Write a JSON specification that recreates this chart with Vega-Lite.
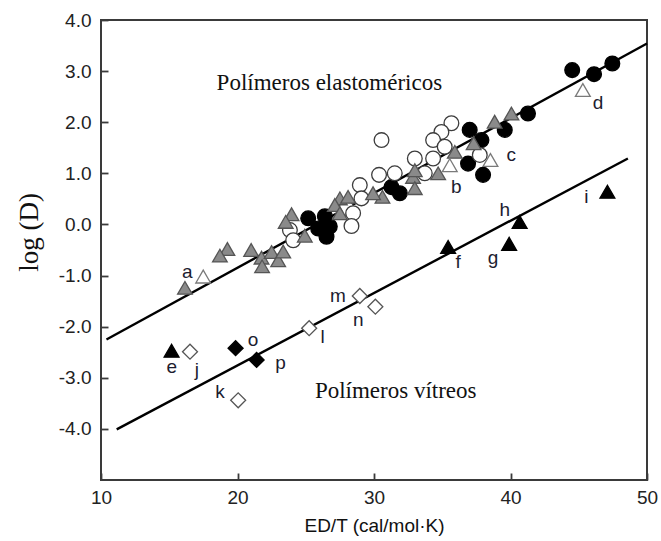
{
  "$schema": "https://vega.github.io/schema/vega-lite/v6.json",
  "autosize": {"type": "none"},
  "padding": {"left": 101, "top": 20, "right": 14, "bottom": 61},
  "width": 546,
  "height": 460,
  "background": "white",
  "config": {
    "view": {"stroke": "#3a3a3a", "strokeWidth": 2},
    "axis": {
      "domain": false,
      "grid": false,
      "tickColor": "#3a3a3a",
      "tickWidth": 1.8,
      "tickSize": -7,
      "labelFont": "Liberation Sans",
      "labelFontSize": 19,
      "labelColor": "#222",
      "titleColor": "#111",
      "labelFlush": false
    }
  },
  "datasets": {
    "points": [
      {"x": 44.52, "y": 3.02, "kind": "black circle"},
      {"x": 46.12, "y": 2.94, "kind": "black circle"},
      {"x": 47.46, "y": 3.15, "kind": "black circle"},
      {"x": 41.28, "y": 2.17, "kind": "black circle"},
      {"x": 39.58, "y": 1.85, "kind": "black circle"},
      {"x": 37.01, "y": 1.85, "kind": "black circle"},
      {"x": 37.87, "y": 1.65, "kind": "black circle"},
      {"x": 36.89, "y": 1.19, "kind": "black circle"},
      {"x": 37.99, "y": 0.97, "kind": "black circle"},
      {"x": 31.28, "y": 0.73, "kind": "black circle"},
      {"x": 31.89, "y": 0.61, "kind": "black circle"},
      {"x": 25.18, "y": 0.12, "kind": "black circle"},
      {"x": 26.4, "y": 0.16, "kind": "black circle"},
      {"x": 25.91, "y": -0.08, "kind": "black circle"},
      {"x": 26.76, "y": -0.04, "kind": "black circle"},
      {"x": 26.52, "y": -0.24, "kind": "black circle"},

      {"x": 30.55, "y": 1.65, "kind": "open circle"},
      {"x": 35.67, "y": 1.98, "kind": "open circle"},
      {"x": 34.94, "y": 1.81, "kind": "open circle"},
      {"x": 34.33, "y": 1.65, "kind": "open circle"},
      {"x": 35.18, "y": 1.52, "kind": "open circle"},
      {"x": 34.33, "y": 1.29, "kind": "open circle"},
      {"x": 32.99, "y": 1.29, "kind": "open circle"},
      {"x": 33.72, "y": 1.0, "kind": "open circle"},
      {"x": 37.75, "y": 1.36, "kind": "open circle"},
      {"x": 31.52, "y": 1.0, "kind": "open circle"},
      {"x": 30.37, "y": 0.97, "kind": "open circle"},
      {"x": 28.96, "y": 0.77, "kind": "open circle"},
      {"x": 29.08, "y": 0.51, "kind": "open circle"},
      {"x": 27.98, "y": 0.32, "kind": "open circle"},
      {"x": 28.47, "y": 0.22, "kind": "open circle"},
      {"x": 28.35, "y": -0.03, "kind": "open circle"},
      {"x": 23.84, "y": -0.11, "kind": "open circle"},
      {"x": 24.08, "y": -0.31, "kind": "open circle"},

      {"x": 40.07, "y": 2.17, "kind": "gray triangle"},
      {"x": 38.84, "y": 2.01, "kind": "gray triangle"},
      {"x": 37.3, "y": 1.59, "kind": "gray triangle"},
      {"x": 35.92, "y": 1.42, "kind": "gray triangle"},
      {"x": 34.7, "y": 1.0, "kind": "gray triangle"},
      {"x": 32.86, "y": 0.93, "kind": "gray triangle"},
      {"x": 32.99, "y": 0.71, "kind": "gray triangle"},
      {"x": 32.99, "y": 1.06, "kind": "gray triangle"},
      {"x": 30.62, "y": 0.54, "kind": "gray triangle"},
      {"x": 29.93, "y": 0.61, "kind": "gray triangle"},
      {"x": 27.5, "y": 0.51, "kind": "gray triangle"},
      {"x": 28.1, "y": 0.54, "kind": "gray triangle"},
      {"x": 27.13, "y": 0.38, "kind": "gray triangle"},
      {"x": 27.5, "y": 0.22, "kind": "gray triangle"},
      {"x": 23.96, "y": 0.2, "kind": "gray triangle"},
      {"x": 23.53, "y": 0.05, "kind": "gray triangle"},
      {"x": 24.93, "y": -0.22, "kind": "gray triangle"},
      {"x": 19.26, "y": -0.48, "kind": "gray triangle"},
      {"x": 18.71, "y": -0.61, "kind": "gray triangle"},
      {"x": 21.0, "y": -0.5, "kind": "gray triangle"},
      {"x": 21.76, "y": -0.65, "kind": "gray triangle"},
      {"x": 21.8, "y": -0.82, "kind": "gray triangle"},
      {"x": 22.5, "y": -0.54, "kind": "gray triangle"},
      {"x": 22.98, "y": -0.7, "kind": "gray triangle"},
      {"x": 23.35, "y": -0.53, "kind": "gray triangle"},
      {"x": 16.15, "y": -1.24, "kind": "gray triangle"},

      {"x": 17.49, "y": -1.02, "kind": "open triangle"},
      {"x": 45.3, "y": 2.63, "kind": "open triangle"},
      {"x": 38.53, "y": 1.26, "kind": "open triangle"},
      {"x": 35.55, "y": 1.16, "kind": "open triangle"},

      {"x": 15.17, "y": -2.47, "kind": "black triangle"},
      {"x": 35.43, "y": -0.44, "kind": "black triangle"},
      {"x": 39.9, "y": -0.38, "kind": "black triangle"},
      {"x": 40.67, "y": 0.05, "kind": "black triangle"},
      {"x": 47.1, "y": 0.64, "kind": "black triangle"},

      {"x": 16.52, "y": -2.49, "kind": "open diamond"},
      {"x": 20.05, "y": -3.44, "kind": "open diamond"},
      {"x": 25.25, "y": -2.03, "kind": "open diamond"},
      {"x": 28.96, "y": -1.4, "kind": "open diamond"},
      {"x": 30.1, "y": -1.61, "kind": "open diamond"},

      {"x": 19.86, "y": -2.42, "kind": "black diamond"},
      {"x": 21.4, "y": -2.65, "kind": "black diamond"}
    ],
    "fits": [
      {"x": 10.4, "y": -2.25, "x2": 50, "y2": 3.54},
      {"x": 11.15, "y": -4.01, "x2": 48.6, "y2": 1.29}
    ],
    "letters": [
      {"x": 16.32, "y": -0.93, "t": "a"},
      {"x": 36.03, "y": 0.74, "t": "b"},
      {"x": 40.06, "y": 1.36, "t": "c"},
      {"x": 46.41, "y": 2.37, "t": "d"},
      {"x": 15.18, "y": -2.79, "t": "e"},
      {"x": 36.16, "y": -0.73, "t": "f"},
      {"x": 38.72, "y": -0.66, "t": "g"},
      {"x": 39.58, "y": 0.28, "t": "h"},
      {"x": 45.56, "y": 0.54, "t": "i"},
      {"x": 17.03, "y": -2.85, "t": "j"},
      {"x": 18.71, "y": -3.27, "t": "k"},
      {"x": 26.23, "y": -2.2, "t": "l"},
      {"x": 27.35, "y": -1.4, "t": "m"},
      {"x": 28.84, "y": -1.87, "t": "n"},
      {"x": 21.13, "y": -2.26, "t": "o"},
      {"x": 23.16, "y": -2.71, "t": "p"}
    ],
    "captions": [
      {"x": 18.47, "y": 2.64, "t": "Polímeros elastoméricos"},
      {"x": 25.67, "y": -3.4, "t": "Polímeros vítreos"}
    ]
  },
  "layer": [
    {
      "data": {"name": "fits"},
      "mark": {"type": "rule", "color": "#000", "strokeWidth": 2.4},
      "encoding": {
        "x": {
          "field": "x", "type": "quantitative",
          "scale": {"domain": [10, 50], "nice": false, "zero": false},
          "axis": {
            "values": [10, 20, 30, 40, 50],
            "labelPadding": 15,
            "title": "ED/T (cal/mol·K)",
            "titleFont": "Liberation Sans",
            "titleFontSize": 19,
            "titleFontWeight": "normal",
            "titlePadding": 9
          }
        },
        "y": {
          "field": "y", "type": "quantitative",
          "scale": {"domain": [-5, 4], "nice": false, "zero": false},
          "axis": {
            "values": [-4, -3, -2, -1, 0, 1, 2, 3, 4],
            "labelExpr": "replace(format(datum.value, '.1f'), '\u2212', '-')",
            "labelPadding": 17,
            "title": "log (D)",
            "titleFont": "Liberation Serif",
            "titleFontSize": 27,
            "titleFontWeight": "normal",
            "titleX": -72,
            "titleY": 212,
            "titleAlign": "center",
            "titleBaseline": "middle",
            "titleAngle": -90
          }
        },
        "x2": {"field": "x2"},
        "y2": {"field": "y2"}
      }
    },
    {
      "data": {"name": "points"},
      "mark": {"type": "point", "filled": true, "strokeWidth": 1.3, "opacity": 1},
      "encoding": {
        "x": {"field": "x", "type": "quantitative"},
        "y": {"field": "y", "type": "quantitative"},
        "shape": {
          "field": "kind", "type": "nominal", "legend": null,
          "scale": {
            "domain": ["gray triangle", "open circle", "black circle", "open triangle", "black triangle", "open diamond", "black diamond"],
            "range": ["triangle-up", "circle", "circle", "triangle-up", "triangle-up", "diamond", "diamond"]
          }
        },
        "fill": {
          "field": "kind", "type": "nominal", "legend": null,
          "scale": {
            "domain": ["gray triangle", "open circle", "black circle", "open triangle", "black triangle", "open diamond", "black diamond"],
            "range": ["#8a8a8a", "#ffffff", "#000000", "#ffffff", "#000000", "#ffffff", "#000000"]
          }
        },
        "stroke": {
          "field": "kind", "type": "nominal", "legend": null,
          "scale": {
            "domain": ["gray triangle", "open circle", "black circle", "open triangle", "black triangle", "open diamond", "black diamond"],
            "range": ["#555555", "#3c3c3c", "#000000", "#7a7a7a", "#000000", "#555555", "#000000"]
          }
        },
        "size": {
          "field": "kind", "type": "nominal", "legend": null,
          "scale": {
            "domain": ["gray triangle", "open circle", "black circle", "open triangle", "black triangle", "open diamond", "black diamond"],
            "range": [215, 225, 225, 215, 215, 270, 290]
          }
        }
      }
    },
    {
      "data": {"name": "letters"},
      "mark": {"type": "text", "font": "Liberation Sans", "fontSize": 19, "color": "#1c1c30", "align": "center", "baseline": "middle"},
      "encoding": {
        "x": {"field": "x", "type": "quantitative"},
        "y": {"field": "y", "type": "quantitative"},
        "text": {"field": "t"}
      }
    },
    {
      "data": {"name": "captions"},
      "mark": {"type": "text", "font": "Liberation Serif", "fontSize": 23, "color": "#111", "align": "left", "baseline": "alphabetic"},
      "encoding": {
        "x": {"field": "x", "type": "quantitative"},
        "y": {"field": "y", "type": "quantitative"},
        "text": {"field": "t"}
      }
    }
  ]
}
